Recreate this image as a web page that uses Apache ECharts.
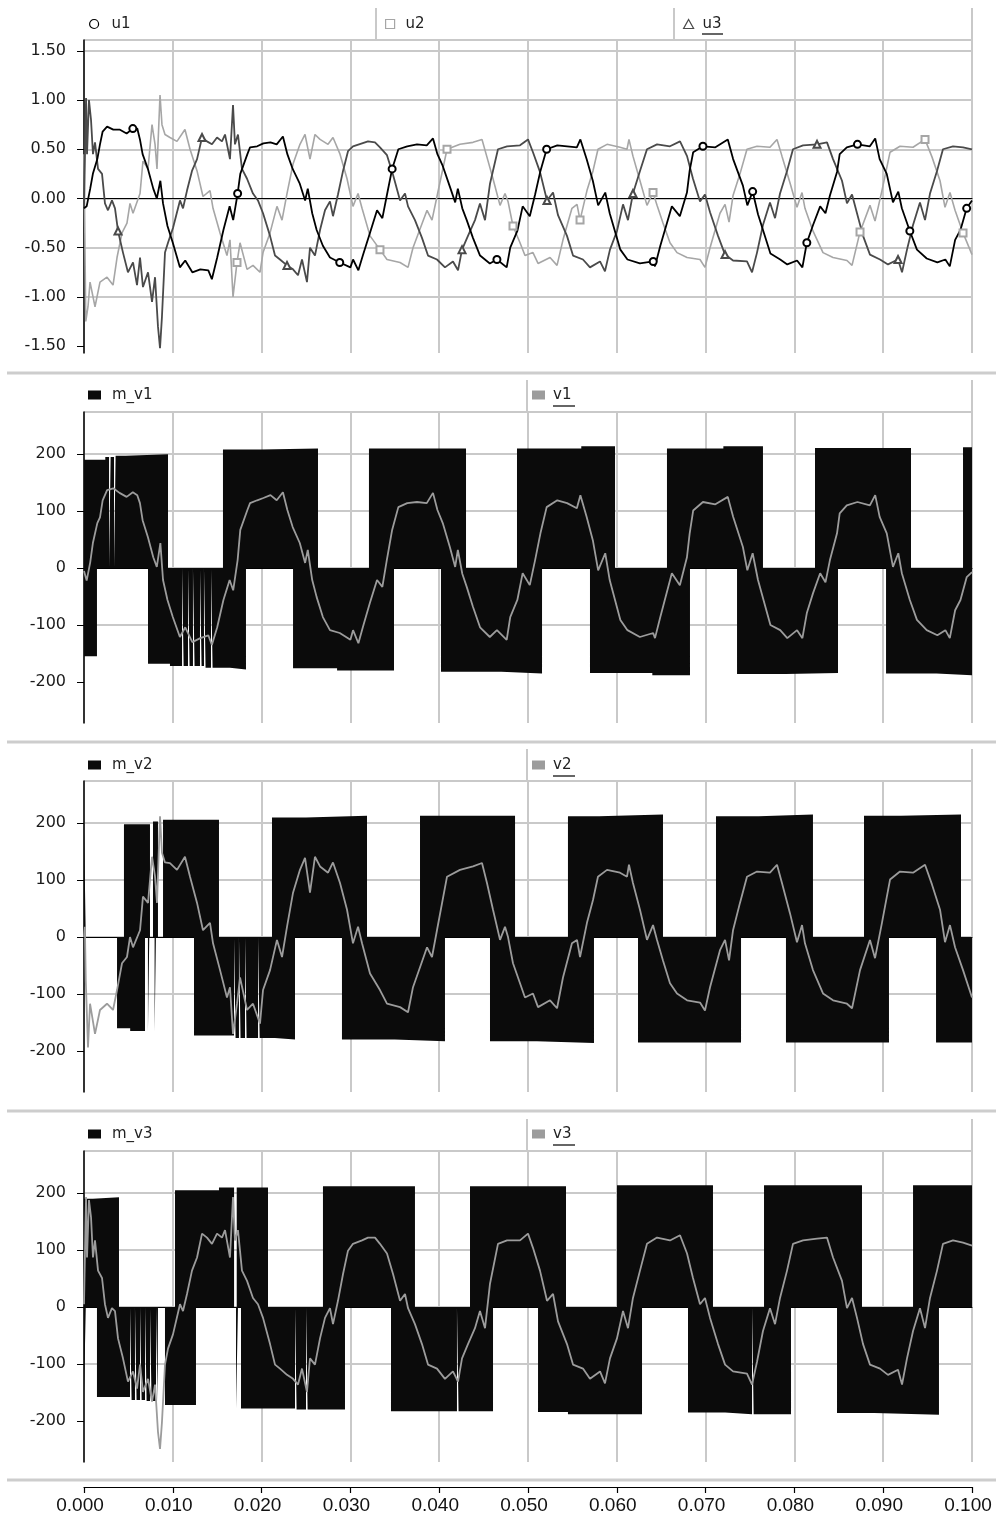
<!DOCTYPE html>
<html><head><meta charset="utf-8">
<script src="https://cdn.jsdelivr.net/npm/echarts@6/dist/echarts.min.js"></script>
<style>html,body{margin:0;padding:0;background:#fff}#c{width:996px;height:1517px}</style>
</head><body><div id="c"></div>
<script>
// ---------- tick labels ----------
const xTickStep = 0.01;
const uTicks = [-1.5, -1.0, -0.5, 0, 0.5, 1.0, 1.5];
const vTicks = [-200, -100, 0, 100, 200];

// ---------- panel 1: u1, u2, u3  [time s, value] ----------
const u1 = [[0,-0.10],[0.0003,-0.08],[0.0007,0.10],[0.0010,0.25],[0.0015,0.40],[0.0018,0.55],[0.0021,0.68],[0.0026,0.73],[0.0033,0.70],[0.0040,0.70],[0.0048,0.66],[0.0055,0.71],[0.0060,0.71],[0.0063,0.60],[0.0066,0.45],[0.0072,0.30],[0.0078,0.10],[0.0082,0.00],[0.0086,0.18],[0.0089,-0.05],[0.0094,-0.28],[0.0100,-0.45],[0.0108,-0.70],[0.0114,-0.63],[0.0122,-0.75],[0.0131,-0.72],[0.0140,-0.73],[0.0144,-0.82],[0.0150,-0.60],[0.0157,-0.32],[0.0164,-0.08],[0.0168,-0.22],[0.0173,0.05],[0.0176,0.25],[0.0184,0.45],[0.0187,0.52],[0.0195,0.53],[0.0202,0.56],[0.0210,0.57],[0.0217,0.55],[0.0224,0.63],[0.0229,0.45],[0.0235,0.30],[0.0243,0.15],[0.0249,-0.02],[0.0252,0.10],[0.0257,-0.15],[0.0262,-0.32],[0.0269,-0.48],[0.0277,-0.60],[0.0288,-0.65],[0.0300,-0.70],[0.0303,-0.62],[0.0309,-0.73],[0.0314,-0.58],[0.0322,-0.35],[0.0330,-0.12],[0.0336,-0.20],[0.0341,0.03],[0.0347,0.30],[0.0354,0.50],[0.0364,0.53],[0.0375,0.55],[0.0386,0.54],[0.0393,0.61],[0.0398,0.45],[0.0404,0.33],[0.0412,0.12],[0.0418,-0.04],[0.0421,0.10],[0.0426,-0.10],[0.0431,-0.22],[0.0438,-0.40],[0.0446,-0.58],[0.0457,-0.66],[0.0465,-0.62],[0.0476,-0.70],[0.0480,-0.50],[0.0488,-0.33],[0.0494,-0.08],[0.0502,-0.18],[0.0508,0.04],[0.0514,0.28],[0.0521,0.50],[0.0533,0.54],[0.0544,0.53],[0.0555,0.52],[0.0559,0.60],[0.0566,0.40],[0.0573,0.18],[0.0579,-0.07],[0.0587,0.06],[0.0592,-0.15],[0.0604,-0.52],[0.0612,-0.62],[0.0626,-0.66],[0.0641,-0.64],[0.0643,-0.69],[0.0649,-0.48],[0.0662,-0.08],[0.0671,-0.18],[0.0679,0.06],[0.0682,0.28],[0.0686,0.47],[0.0697,0.53],[0.0711,0.52],[0.0725,0.60],[0.0731,0.40],[0.0742,0.13],[0.0747,-0.07],[0.0753,0.07],[0.0759,-0.16],[0.0773,-0.56],[0.0784,-0.62],[0.0792,-0.67],[0.0803,-0.63],[0.0809,-0.70],[0.0814,-0.45],[0.0821,-0.27],[0.0829,-0.08],[0.0835,-0.15],[0.0840,0.03],[0.0848,0.27],[0.0851,0.45],[0.0859,0.52],[0.0871,0.55],[0.0885,0.53],[0.0891,0.61],[0.0896,0.40],[0.0904,0.25],[0.0911,-0.04],[0.0917,0.07],[0.0921,-0.10],[0.0930,-0.33],[0.0938,-0.52],[0.0949,-0.61],[0.0961,-0.65],[0.0970,-0.62],[0.0975,-0.69],[0.0981,-0.42],[0.0987,-0.32],[0.0994,-0.10],[0.1000,-0.02]];
const u2 = [[0,0.45],[0.0002,-1.25],[0.00045,-1.1],[0.00068,-0.85],[0.00124,-1.1],[0.0018,-0.85],[0.00259,-0.8],[0.00327,-0.88],[0.00372,-0.6],[0.00428,-0.35],[0.00484,-0.25],[0.00518,-0.05],[0.00552,-0.15],[0.00631,0.05],[0.00664,0.38],[0.00721,0.3],[0.00766,0.75],[0.008,0.55],[0.00822,0.3],[0.00856,1.05],[0.00878,0.75],[0.00912,0.65],[0.00968,0.62],[0.01047,0.58],[0.01137,0.7],[0.01194,0.5],[0.01273,0.28],[0.0134,0.02],[0.01419,0.08],[0.01453,-0.1],[0.01532,-0.35],[0.0161,-0.58],[0.01644,-0.42],[0.01678,-1.0],[0.01723,-0.65],[0.01757,-0.45],[0.01836,-0.72],[0.01903,-0.68],[0.01982,-0.75],[0.02016,-0.55],[0.02095,-0.35],[0.02173,-0.08],[0.0223,-0.22],[0.02286,0.05],[0.02354,0.35],[0.02432,0.55],[0.02489,0.65],[0.02545,0.4],[0.02601,0.65],[0.02658,0.6],[0.02748,0.55],[0.02804,0.62],[0.02883,0.45],[0.02962,0.2],[0.03029,-0.08],[0.03086,0.05],[0.03131,-0.1],[0.03221,-0.38],[0.03333,-0.52],[0.03412,-0.62],[0.03559,-0.65],[0.03649,-0.7],[0.03705,-0.5],[0.03863,-0.12],[0.03919,-0.22],[0.03975,0.02],[0.04088,0.5],[0.04234,0.55],[0.04381,0.57],[0.04482,0.6],[0.04538,0.42],[0.04606,0.2],[0.04685,-0.07],[0.04741,0.05],[0.04775,-0.03],[0.04831,-0.28],[0.0491,-0.45],[0.04966,-0.58],[0.05056,-0.55],[0.05113,-0.66],[0.05248,-0.6],[0.05327,-0.68],[0.05394,-0.42],[0.05495,-0.1],[0.05552,-0.06],[0.05586,-0.22],[0.05664,0.08],[0.05732,0.28],[0.05788,0.5],[0.0589,0.55],[0.06036,0.52],[0.06115,0.5],[0.06137,0.6],[0.06182,0.43],[0.06261,0.18],[0.0634,-0.07],[0.06408,0.06],[0.06453,-0.07],[0.0652,-0.25],[0.06599,-0.45],[0.06678,-0.55],[0.06791,-0.6],[0.06937,-0.62],[0.06993,-0.7],[0.0705,-0.5],[0.07162,-0.15],[0.07219,-0.06],[0.07264,-0.24],[0.07309,0.03],[0.07387,0.25],[0.07466,0.5],[0.07579,0.53],[0.07725,0.52],[0.07804,0.6],[0.0786,0.43],[0.0795,0.16],[0.08029,-0.09],[0.08086,0.06],[0.08119,-0.1],[0.08209,-0.33],[0.08322,-0.55],[0.08435,-0.6],[0.08592,-0.63],[0.08649,-0.68],[0.08739,-0.34],[0.08851,-0.07],[0.08908,-0.23],[0.08986,0.08],[0.09077,0.47],[0.09189,0.53],[0.09336,0.52],[0.09471,0.6],[0.0955,0.42],[0.0964,0.18],[0.09696,-0.09],[0.09752,0.06],[0.09809,-0.12],[0.09899,-0.35],[0.1,-0.57]];
const u3 = [[0,-0.1],[0.00023,1.02],[0.00034,0.45],[0.00056,1.0],[0.00079,0.8],[0.00101,0.45],[0.00124,0.57],[0.00158,0.3],[0.00203,0.25],[0.00236,-0.05],[0.0027,-0.12],[0.00315,-0.02],[0.00349,-0.1],[0.00383,-0.33],[0.00439,-0.55],[0.00495,-0.75],[0.00552,-0.65],[0.00597,-0.88],[0.00631,-0.6],[0.00664,-0.9],[0.00721,-0.75],[0.00766,-1.05],[0.008,-0.8],[0.00833,-1.3],[0.00856,-1.52],[0.00878,-1.2],[0.00912,-0.55],[0.00946,-0.45],[0.01002,-0.3],[0.01081,-0.02],[0.01115,-0.1],[0.0116,0.08],[0.01216,0.28],[0.01273,0.4],[0.01329,0.62],[0.01385,0.58],[0.01441,0.55],[0.01498,0.62],[0.01554,0.58],[0.01588,0.65],[0.01644,0.4],[0.01678,0.95],[0.017,0.55],[0.01734,0.65],[0.01779,0.3],[0.01836,0.2],[0.01903,0.05],[0.01959,-0.02],[0.02016,-0.15],[0.02095,-0.38],[0.02151,-0.58],[0.02207,-0.62],[0.02286,-0.68],[0.02354,-0.72],[0.0241,-0.78],[0.02455,-0.62],[0.02511,-0.85],[0.02545,-0.5],[0.02601,-0.58],[0.02658,-0.32],[0.02714,-0.12],[0.0277,-0.03],[0.02804,-0.18],[0.0286,0.04],[0.02917,0.28],[0.02973,0.48],[0.03029,0.53],[0.03131,0.56],[0.03198,0.58],[0.03277,0.57],[0.03333,0.52],[0.03412,0.44],[0.0348,0.24],[0.03559,-0.02],[0.03615,0.05],[0.03649,-0.08],[0.03727,-0.22],[0.03806,-0.4],[0.03874,-0.58],[0.03975,-0.62],[0.04065,-0.7],[0.04155,-0.64],[0.04212,-0.73],[0.04257,-0.52],[0.04324,-0.38],[0.04403,-0.22],[0.04459,-0.05],[0.04516,-0.22],[0.04572,0.15],[0.04662,0.5],[0.04764,0.53],[0.0491,0.54],[0.05,0.6],[0.05056,0.47],[0.05135,0.27],[0.05214,-0.02],[0.05282,0.06],[0.05338,-0.17],[0.05439,-0.38],[0.05507,-0.58],[0.05619,-0.62],[0.05698,-0.7],[0.05811,-0.64],[0.05867,-0.74],[0.05923,-0.52],[0.06002,-0.33],[0.0607,-0.06],[0.06126,-0.22],[0.06182,0.05],[0.06261,0.28],[0.0634,0.5],[0.06453,0.55],[0.06599,0.53],[0.06712,0.58],[0.06791,0.43],[0.06858,0.2],[0.06937,-0.03],[0.06993,0.04],[0.0705,-0.14],[0.0714,-0.38],[0.07219,-0.57],[0.07309,-0.63],[0.07466,-0.64],[0.07523,-0.75],[0.07579,-0.55],[0.07646,-0.27],[0.07725,-0.04],[0.07782,-0.2],[0.07838,0.05],[0.07917,0.28],[0.07984,0.5],[0.08097,0.54],[0.08255,0.55],[0.08367,0.57],[0.08435,0.4],[0.08536,0.18],[0.08592,-0.05],[0.08649,0.04],[0.08705,-0.15],[0.08773,-0.38],[0.08851,-0.57],[0.08964,-0.62],[0.09054,-0.67],[0.09167,-0.62],[0.09212,-0.75],[0.09268,-0.52],[0.09336,-0.27],[0.09414,-0.04],[0.09471,-0.22],[0.09527,0.05],[0.09606,0.28],[0.09673,0.5],[0.09786,0.53],[0.09899,0.52],[0.1,0.5]];
// marker times on u curves
const u1Marks = [0.0055,0.0172,0.0288,0.0348,0.0465,0.0521,0.0641,0.0697,0.0753,0.0814,0.0871,0.0930,0.0994];
const u2Marks = [0.0172,0.0333,0.0404,0.0483,0.0562,0.0641,0.0872,0.0947,0.0986];
const u3Marks = [0.0038,0.0134,0.0230,0.0426,0.0521,0.0618,0.0722,0.0818,0.0917];

// ---------- PWM outputs (sample-and-hold levels: [time s, level]) ----------
const m_v1_pos = [[0,190],[0.0024,195],[0.00282,0],[0.003,195],[0.00338,0],[0.00356,197],[0.0047,200],[0.00946,0],[0.01565,208],[0.02,210],[0.02635,0],[0.03209,210],[0.04302,0],[0.04876,210],[0.056,214],[0.0598,0],[0.06565,210],[0.072,214],[0.07646,0],[0.08232,211],[0.09313,0],[0.09899,212],[0.1,212]];
const m_v1_neg = [[0,-155],[0.00146,0],[0.00721,-168],[0.00968,-172],[0.01104,0],[0.01122,-172],[0.01171,0],[0.01189,-172],[0.01227,0],[0.01245,-172],[0.01306,0],[0.01324,-172],[0.01351,0],[0.01369,-175],[0.0143,0],[0.01448,-175],[0.01644,-178],[0.01824,0],[0.02354,-176],[0.0285,-180],[0.03491,0],[0.0402,-182],[0.047,-185],[0.05158,0],[0.05698,-184],[0.064,-188],[0.06824,0],[0.07354,-186],[0.079,-184],[0.08491,0],[0.09032,-185],[0.096,-188],[0.1,-188]];
const m_v2_pos = [[0,190],[0.0002,0],[0.0045,198],[0.00743,0],[0.00777,203],[0.00833,0],[0.0089,206],[0.0152,0],[0.02117,210],[0.025,213],[0.03187,0],[0.03784,213],[0.04854,0],[0.0545,212],[0.058,215],[0.0652,0],[0.07117,212],[0.076,215],[0.08209,0],[0.08784,213],[0.092,215],[0.09876,0],[0.1,0]];
const m_v2_neg = [[0,0],[0.00372,-160],[0.0052,-165],[0.00687,0],[0.0072,-167],[0.00735,0],[0.00795,-167],[0.0081,0],[0.01239,-173],[0.01689,0],[0.01707,-177],[0.01745,0],[0.01763,-177],[0.01813,0],[0.01831,-177],[0.0196,0],[0.01978,-177],[0.0215,-180],[0.02376,0],[0.02905,-180],[0.035,-183],[0.04065,0],[0.04572,-183],[0.051,-186],[0.05743,0],[0.06239,-185],[0.07399,0],[0.07905,-185],[0.09065,0],[0.09595,-185],[0.1,-185]];
const m_v3_pos = [[0,190],[0.001,193],[0.00394,0],[0.01025,205],[0.0152,210],[0.0169,0],[0.0172,210],[0.02072,0],[0.02691,212],[0.03727,0],[0.04347,212],[0.05428,0],[0.06002,214],[0.07083,0],[0.07658,214],[0.08761,0],[0.09336,214],[0.1,214]];
const m_v3_neg = [[0,-150],[0.0002,0],[0.00146,-158],[0.00518,0],[0.00536,-163],[0.00574,0],[0.00592,-163],[0.00631,0],[0.00649,-163],[0.00687,0],[0.00705,-165],[0.00743,0],[0.00761,-165],[0.00811,0],[0.00829,-166],[0.00833,0],[0.00912,-172],[0.01261,0],[0.01712,-178],[0.01734,0],[0.01768,-178],[0.02376,0],[0.02394,-180],[0.025,0],[0.02518,-180],[0.02939,0],[0.03457,-183],[0.042,0],[0.04218,-183],[0.04606,0],[0.05113,-184],[0.0545,-188],[0.06284,0],[0.06802,-185],[0.0722,-188],[0.07523,0],[0.07541,-188],[0.07962,0],[0.0848,-186],[0.089,-189],[0.09628,0],[0.1,0]];

// ---------- filtered phase voltages ----------
const v1 = [[0,-5],[0.0003,-22],[0.0007,10],[0.0010,44],[0.0015,79],[0.0018,89],[0.0021,119],[0.0026,137],[0.0033,140],[0.0040,132],[0.0048,125],[0.0055,133],[0.0060,128],[0.0063,114],[0.0066,84],[0.0072,54],[0.0078,19],[0.0082,2],[0.0086,44],[0.0089,-21],[0.0094,-56],[0.0100,-86],[0.0108,-121],[0.0114,-104],[0.0122,-130],[0.0131,-123],[0.0140,-118],[0.0144,-135],[0.0150,-104],[0.0157,-56],[0.0164,-21],[0.0168,-39],[0.0173,14],[0.0176,67],[0.0184,102],[0.0187,114],[0.0195,119],[0.0202,123],[0.0210,128],[0.0217,119],[0.0224,133],[0.0229,102],[0.0235,72],[0.0243,44],[0.0249,9],[0.0252,32],[0.0257,-21],[0.0262,-51],[0.0269,-86],[0.0277,-109],[0.0288,-114],[0.0300,-126],[0.0303,-109],[0.0309,-132],[0.0314,-104],[0.0322,-61],[0.0330,-21],[0.0336,-33],[0.0341,14],[0.0347,67],[0.0354,107],[0.0364,114],[0.0375,116],[0.0386,114],[0.0393,132],[0.0398,102],[0.0404,79],[0.0412,37],[0.0418,2],[0.0421,32],[0.0426,-10],[0.0431,-33],[0.0438,-68],[0.0446,-104],[0.0457,-121],[0.0465,-109],[0.0476,-126],[0.0480,-86],[0.0488,-56],[0.0494,-9],[0.0502,-30],[0.0508,14],[0.0514,61],[0.0521,107],[0.0533,119],[0.0544,114],[0.0555,105],[0.0559,128],[0.0566,90],[0.0573,49],[0.0579,-4],[0.0587,26],[0.0592,-21],[0.0604,-91],[0.0612,-109],[0.0626,-121],[0.0641,-114],[0.0643,-123],[0.0649,-86],[0.0662,-9],[0.0671,-30],[0.0679,19],[0.0682,60],[0.0686,101],[0.0697,116],[0.0711,112],[0.0725,125],[0.0731,90],[0.0742,37],[0.0747,-4],[0.0753,26],[0.0759,-21],[0.0773,-100],[0.0784,-109],[0.0792,-123],[0.0803,-109],[0.0809,-123],[0.0814,-79],[0.0821,-44],[0.0829,-9],[0.0835,-25],[0.0840,14],[0.0848,61],[0.0851,96],[0.0859,110],[0.0871,116],[0.0885,110],[0.0891,128],[0.0896,90],[0.0904,61],[0.0911,2],[0.0917,26],[0.0921,-9],[0.0930,-56],[0.0938,-91],[0.0949,-109],[0.0961,-118],[0.0970,-109],[0.0975,-123],[0.0981,-74],[0.0987,-56],[0.0994,-16],[0.1000,-7]];
const v2 = [[0,0],[0.0001,18],[0.0002,-76],[0.00045,-194],[0.00068,-117],[0.00124,-170],[0.0018,-128],[0.00259,-117],[0.00327,-128],[0.00372,-93],[0.00428,-46],[0.00484,-35],[0.00518,0],[0.00552,-18],[0.00631,12],[0.00664,71],[0.00721,60],[0.00766,141],[0.008,106],[0.00822,60],[0.00856,212],[0.00878,148],[0.00912,131],[0.00968,130],[0.01047,118],[0.01137,141],[0.01194,106],[0.01273,60],[0.0134,12],[0.01419,25],[0.01453,-11],[0.01532,-58],[0.0161,-106],[0.01644,-88],[0.01678,-170],[0.01723,-117],[0.01757,-71],[0.01836,-128],[0.01903,-117],[0.01982,-152],[0.02016,-93],[0.02095,-58],[0.02173,-5],[0.0223,-35],[0.02286,18],[0.02354,78],[0.02432,118],[0.02489,139],[0.02545,78],[0.02601,141],[0.02658,124],[0.02748,113],[0.02804,131],[0.02883,95],[0.02962,48],[0.03029,-11],[0.03086,18],[0.03131,-11],[0.03221,-64],[0.03333,-93],[0.03412,-117],[0.03559,-123],[0.03649,-132],[0.03705,-88],[0.03863,-18],[0.03919,-35],[0.03975,12],[0.04088,106],[0.04234,118],[0.04381,124],[0.04482,130],[0.04538,95],[0.04606,48],[0.04685,-5],[0.04741,18],[0.04775,0],[0.04831,-46],[0.0491,-81],[0.04966,-106],[0.05056,-99],[0.05113,-123],[0.05248,-111],[0.05327,-125],[0.05394,-71],[0.05495,-11],[0.05552,-5],[0.05586,-35],[0.05664,25],[0.05732,65],[0.05788,106],[0.0589,118],[0.06036,113],[0.06115,106],[0.06137,127],[0.06182,95],[0.06261,48],[0.0634,-5],[0.06408,21],[0.06453,-5],[0.0652,-41],[0.06599,-81],[0.06678,-99],[0.06791,-111],[0.06937,-115],[0.06993,-129],[0.0705,-88],[0.07162,-23],[0.07219,-5],[0.07264,-41],[0.07309,12],[0.07387,60],[0.07466,106],[0.07579,115],[0.07725,113],[0.07804,127],[0.0786,95],[0.0795,42],[0.08029,-9],[0.08086,21],[0.08119,-11],[0.08209,-58],[0.08322,-99],[0.08435,-111],[0.08592,-117],[0.08649,-125],[0.08739,-58],[0.08851,-5],[0.08908,-37],[0.08986,25],[0.09077,101],[0.09189,115],[0.09336,113],[0.09471,127],[0.0955,92],[0.0964,48],[0.09696,-9],[0.09752,21],[0.09809,-18],[0.09899,-58],[0.1,-106]];
const v3 = [[0,5],[0.00023,193],[0.00034,87],[0.00056,188],[0.00079,158],[0.00101,87],[0.00124,117],[0.00158,64],[0.00203,51],[0.00236,5],[0.0027,-19],[0.00315,-2],[0.00349,-7],[0.00383,-55],[0.00439,-90],[0.00495,-131],[0.00552,-113],[0.00597,-143],[0.00631,-101],[0.00664,-149],[0.00721,-126],[0.00766,-166],[0.008,-136],[0.00833,-219],[0.00856,-249],[0.00878,-202],[0.00912,-101],[0.00946,-73],[0.01002,-48],[0.01081,5],[0.01115,-7],[0.0116,23],[0.01216,64],[0.01273,87],[0.01329,129],[0.01385,122],[0.01441,111],[0.01498,129],[0.01554,122],[0.01588,135],[0.01644,87],[0.01678,193],[0.017,117],[0.01734,135],[0.01779,64],[0.01836,46],[0.01903,16],[0.01959,5],[0.02016,-19],[0.02095,-65],[0.02151,-101],[0.02207,-108],[0.02286,-119],[0.02354,-126],[0.0241,-136],[0.02455,-108],[0.02511,-149],[0.02545,-90],[0.02601,-101],[0.02658,-55],[0.02714,-19],[0.0277,-2],[0.02804,-30],[0.0286,11],[0.02917,58],[0.02973,99],[0.03029,111],[0.03131,117],[0.03198,122],[0.03277,122],[0.03333,111],[0.03412,94],[0.0348,58],[0.03559,11],[0.03615,23],[0.03649,-2],[0.03727,-30],[0.03806,-65],[0.03874,-101],[0.03975,-108],[0.04065,-126],[0.04155,-113],[0.04212,-131],[0.04257,-90],[0.04324,-65],[0.04403,-37],[0.04459,-7],[0.04516,-37],[0.04572,41],[0.04662,111],[0.04764,117],[0.0491,117],[0.05,129],[0.05056,104],[0.05135,64],[0.05214,11],[0.05282,23],[0.05338,-25],[0.05439,-65],[0.05507,-101],[0.05619,-108],[0.05698,-126],[0.05811,-113],[0.05867,-134],[0.05923,-90],[0.06002,-55],[0.0607,-7],[0.06126,-37],[0.06182,16],[0.06261,64],[0.0634,111],[0.06453,122],[0.06599,117],[0.06712,126],[0.06791,94],[0.06858,51],[0.06937,5],[0.06993,16],[0.0705,-19],[0.0714,-65],[0.07219,-101],[0.07309,-113],[0.07466,-117],[0.07523,-136],[0.07579,-96],[0.07646,-42],[0.07725,-2],[0.07782,-30],[0.07838,16],[0.07917,64],[0.07984,111],[0.08097,117],[0.08255,120],[0.08367,122],[0.08435,87],[0.08536,46],[0.08592,-2],[0.08649,16],[0.08705,-19],[0.08773,-65],[0.08851,-101],[0.08964,-108],[0.09054,-119],[0.09167,-110],[0.09212,-136],[0.09268,-90],[0.09336,-42],[0.09414,-2],[0.09471,-37],[0.09527,16],[0.09606,64],[0.09673,111],[0.09786,117],[0.09899,113],[0.1,108]];

// ---------- layout ----------
const GL = 84, GW = 888;
const panels = [
  {top: 40,   height: 313, min: -1.57, max: 1.61, ticks: uTicks},
  {top: 412,  height: 311, min: -272,  max: 274,  ticks: vTicks},
  {top: 781,  height: 311, min: -272,  max: 274,  ticks: vTicks},
  {top: 1151, height: 311, min: -272,  max: 274,  ticks: vTicks}
];
const COL = {u1:'#000000', u2:'#a6a6a6', u3:'#4a4a4a', m:'#0b0b0b', v:'#9c9c9c', grid:'#c9c9c9'};
const FONT = 'DejaVu Sans';

function withMarks(arr, marks, sym) {
  const idx = new Set(marks.map(t => {
    let b = 0;
    arr.forEach((p, i) => { if (Math.abs(p[0] - t) < Math.abs(arr[b][0] - t)) b = i; });
    return b;
  }));
  return arr.map((p, i) => idx.has(i) ? {value: p, symbol: sym, symbolSize: 7} : p);
}

const grids = panels.map(p => ({left: GL, width: GW, top: p.top, height: p.height}));
grids.push({left: GL, width: GW, top: 1486, height: 1});

const xAxes = panels.map((p, i) => ({
  gridIndex: i, type: 'value', min: 0, max: 0.1, interval: xTickStep,
  axisLine: {show: true, onZero: true, lineStyle: {color: '#000', width: 1}},
  axisTick: {show: false}, axisLabel: {show: false},
  splitLine: {show: true, lineStyle: {color: COL.grid, width: 2}}
}));
xAxes.push({
  gridIndex: 4, type: 'value', min: 0, max: 0.1, interval: xTickStep, position: 'bottom',
  axisLine: {show: true, onZero: false, lineStyle: {color: '#000', width: 1.2}},
  axisTick: {show: true, length: 6, lineStyle: {color: '#000', width: 1.2}},
  axisLabel: {show: true, margin: 9, fontFamily: 'Liberation Sans', fontSize: 19, color: '#111',
              padding: [0, 8, 0, 0], formatter: v => v.toFixed(3)},
  splitLine: {show: false}
});

const isTick = (list, v) => list.some(t => Math.abs(t - v) < 1e-6);
const yAxes = panels.map((p, i) => ({
  gridIndex: i, type: 'value', min: p.min, max: p.max,
  axisLine: {show: true, onZero: false, lineStyle: {color: '#000', width: 1.5}},
  axisTick: {show: true, length: 7, customValues: p.ticks, lineStyle: {color: '#000', width: 1}},
  axisLabel: {
    show: true, margin: 18, customValues: p.ticks, fontFamily: FONT, fontSize: 16, color: '#1a1a1a',
    formatter: v => isTick(p.ticks, v) ? (i === 0 ? v.toFixed(2) : String(Math.round(v))) : ''
  },
  splitLine: {show: true, showMinLine: false, lineStyle: {color: COL.grid, width: 2}}
}));
yAxes.push({gridIndex: 4, type: 'value', min: 0, max: 1, show: false});

function lineSeries(name, data, gi, color, width, extra) {
  return Object.assign({
    name, type: 'line', xAxisIndex: gi, yAxisIndex: gi, data,
    showSymbol: true, symbol: 'none', lineStyle: {color, width}, itemStyle: {color},
    silent: true, clip: true
  }, extra || {});
}
function pwmSeries(name, data, gi) {
  return {
    name, type: 'line', xAxisIndex: gi, yAxisIndex: gi, data, step: 'end',
    symbol: 'none', showSymbol: false, lineStyle: {width: 0, color: COL.m},
    itemStyle: {color: COL.m},
    areaStyle: {color: COL.m, opacity: 1, origin: 'auto'}, silent: true, clip: true
  };
}

const series = [
  lineSeries('u2', withMarks(u2, u2Marks, 'emptyRect'), 0, COL.u2, 1.6),
  lineSeries('u3', withMarks(u3, u3Marks, 'emptyTriangle'), 0, COL.u3, 1.8),
  lineSeries('u1', withMarks(u1, u1Marks, 'emptyCircle'), 0, COL.u1, 1.8),
  pwmSeries('m_v1', m_v1_pos, 1), pwmSeries('m_v1', m_v1_neg, 1),
  lineSeries('v1', v1, 1, COL.v, 1.8),
  pwmSeries('m_v2', m_v2_pos, 2), pwmSeries('m_v2', m_v2_neg, 2),
  lineSeries('v2', v2, 2, COL.v, 1.8),
  pwmSeries('m_v3', m_v3_pos, 3), pwmSeries('m_v3', m_v3_neg, 3),
  lineSeries('v3', v3, 3, COL.v, 1.8)
];

function leg(name, left, top, icon, w, h, style, pad) {
  return {
    show: true, left, top, padding: 0, itemWidth: w, itemHeight: h, selectedMode: false,
    textStyle: {fontFamily: FONT, fontSize: 15, color: '#222', lineHeight: 16, padding: [0, 0, 0, pad]},
    data: [{name, icon, itemStyle: style}]
  };
}
const legCenters = [24, 395, 765, 1134];
const legends = [
  leg('u1', 89, 16, 'circle', 9, 9, {color: '#fff', borderColor: COL.u1, borderWidth: 1.2}, 8),
  leg('u2', 385, 16, 'rect', 9, 9, {color: '#fff', borderColor: COL.u2, borderWidth: 1.2}, 6),
  leg('u3', 683, 16, 'triangle', 10, 9, {color: '#fff', borderColor: COL.u3, borderWidth: 1.2}, 4)
];
[1, 2, 3].forEach(k => {
  const t = legCenters[k] - 8;
  legends.push(leg('m_v' + k, 88, t, 'rect', 13, 9, {color: COL.m, borderWidth: 0}, 6));
  legends.push(leg('v' + k, 532, t, 'rect', 13, 9, {color: COL.v, borderWidth: 0}, 3));
});

// frame / legend box lines
const graphic = [];
const gl = (x1, y1, x2, y2, stroke, w) => graphic.push({type: 'line', silent: true,
  shape: {x1, y1, x2, y2}, style: {stroke, lineWidth: w}, z: 0});
[373, 742, 1111, 1480].forEach(y => gl(7, y, 996, y, '#cdcdcd', 3));
panels.forEach((p, i) => {
  gl(GL, p.top, GL + GW, p.top, COL.grid, 2);
  const seps = i === 0 ? [376, 674, 972] : [527, 972];
  seps.forEach(x => gl(x, p.top - 32, x, p.top, COL.grid, 2));
});
// underline of the second/third legend label
gl(702, 34, 723, 34, '#333', 1.5);
[1, 2, 3].forEach(k => gl(553, legCenters[k] + 11, 575, legCenters[k] + 11, '#333', 1.5));

const chart = echarts.init(document.getElementById('c'), null, {renderer: 'canvas'});
chart.setOption({
  backgroundColor: '#ffffff',
  animation: false,
  grid: grids, xAxis: xAxes, yAxis: yAxes,
  legend: legends, series, graphic
});
</script>
</body></html>
